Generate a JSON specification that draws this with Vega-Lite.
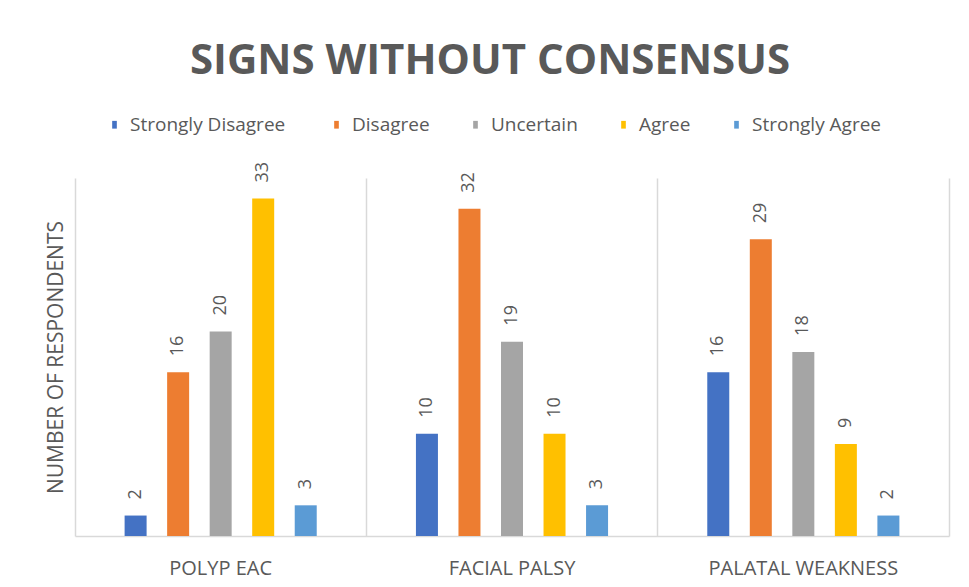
{
  "$schema": "https://vega.github.io/schema/vega-lite/v6.json",
  "autosize": "none",
  "width": 874,
  "height": 358,
  "padding": {"left": 75, "top": 178, "right": 20, "bottom": 51},
  "background": "white",
  "title": {
    "text": "SIGNS WITHOUT CONSENSUS",
    "fontSize": 42,
    "fontWeight": "bold",
    "font": "Open Sans",
    "color": "#595959",
    "anchor": "middle",
    "offset": 32,
    "dx": -22
  },
  "data": {
    "values": [
      {"sign": "POLYP EAC", "response": "Strongly  Disagree", "count": 2},
      {"sign": "POLYP EAC", "response": "Disagree", "count": 16},
      {"sign": "POLYP EAC", "response": "Uncertain", "count": 20},
      {"sign": "POLYP EAC", "response": "Agree", "count": 33},
      {"sign": "POLYP EAC", "response": "Strongly Agree", "count": 3},
      {"sign": "FACIAL PALSY", "response": "Strongly  Disagree", "count": 10},
      {"sign": "FACIAL PALSY", "response": "Disagree", "count": 32},
      {"sign": "FACIAL PALSY", "response": "Uncertain", "count": 19},
      {"sign": "FACIAL PALSY", "response": "Agree", "count": 10},
      {"sign": "FACIAL PALSY", "response": "Strongly Agree", "count": 3},
      {"sign": "PALATAL WEAKNESS", "response": "Strongly  Disagree", "count": 16},
      {"sign": "PALATAL WEAKNESS", "response": "Disagree", "count": 29},
      {"sign": "PALATAL WEAKNESS", "response": "Uncertain", "count": 18},
      {"sign": "PALATAL WEAKNESS", "response": "Agree", "count": 9},
      {"sign": "PALATAL WEAKNESS", "response": "Strongly Agree", "count": 2}
    ]
  },
  "encoding": {
    "x": {
      "field": "sign",
      "type": "nominal",
      "sort": ["POLYP EAC", "FACIAL PALSY", "PALATAL WEAKNESS"],
      "scale": {"paddingInner": 0, "paddingOuter": 0}
    },
    "xOffset": {
      "field": "response",
      "type": "nominal",
      "sort": ["Strongly  Disagree", "Disagree", "Uncertain", "Agree", "Strongly Agree"],
      "scale": {"paddingInner": 0.15, "paddingOuter": 1}
    },
    "y": {
      "field": "count",
      "type": "quantitative",
      "scale": {"domain": [0, 35], "nice": false}
    }
  },
  "layer": [
    {
      "mark": {"type": "bar", "width": 22},
      "encoding": {
        "x": {
          "field": "sign",
          "type": "nominal",
          "sort": ["POLYP EAC", "FACIAL PALSY", "PALATAL WEAKNESS"],
          "scale": {"paddingInner": 0, "paddingOuter": 0},
          "axis": {
            "title": null,
            "labelAngle": 0,
            "labelFont": "Open Sans",
            "labelFontSize": 20,
            "labelLimit": 400,
            "labelColor": "#595959",
            "labelPadding": 22,
            "ticks": false,
            "grid": false,
            "domain": true,
            "domainColor": "#D9D9D9",
            "domainWidth": 1.5,
            "orient": "bottom"
          }
        },
        "y": {
          "field": "count",
          "type": "quantitative",
          "scale": {"domain": [0, 35], "nice": false},
          "axis": {
            "title": "NUMBER OF RESPONDENTS",
            "titleFont": "Open Sans",
            "titleFontSize": 21,
            "titleFontWeight": "normal",
            "titleColor": "#595959",
            "titlePadding": 9,
            "labels": false,
            "ticks": false,
            "domain": false,
            "grid": false,
            "orient": "left"
          }
        },
        "color": {
          "field": "response",
          "type": "nominal",
          "sort": ["Strongly  Disagree", "Disagree", "Uncertain", "Agree", "Strongly Agree"],
          "scale": {"range": ["#4472C4", "#ED7D31", "#A5A5A5", "#FFC000", "#5B9BD5"]},
          "legend": {
            "title": null,
            "orient": "none",
            "direction": "horizontal",
            "legendX": 30,
            "legendY": -63,
            "symbolType": "M-0.6,-1H0.6V1H-0.6Z",
            "symbolSize": 60,
            "symbolStrokeWidth": 0,
            "labelFont": "Open Sans",
            "labelFontSize": 19,
            "labelLimit": 400,
            "labelColor": "#595959",
            "labelOffset": 6,
            "columnPadding": 36
          }
        }
      }
    },
    {
      "mark": {
        "type": "text",
        "angle": 270,
        "align": "left",
        "baseline": "middle",
        "dx": 16,
        "font": "Open Sans",
        "fontSize": 18,
        "color": "#595959"
      },
      "encoding": {
        "x": {
          "field": "sign",
          "type": "nominal",
          "sort": ["POLYP EAC", "FACIAL PALSY", "PALATAL WEAKNESS"],
          "scale": {"paddingInner": 0, "paddingOuter": 0},
          "axis": {
            "orient": "top",
            "title": null,
            "labels": false,
            "ticks": false,
            "domain": false,
            "grid": true,
            "bandPosition": 0,
            "gridColor": "#D9D9D9",
            "gridWidth": 1.5
          }
        },
        "y": {
          "field": "count",
          "type": "quantitative",
          "scale": {"domain": [0, 35], "nice": false},
          "axis": {
            "orient": "right",
            "title": null,
            "labels": false,
            "ticks": false,
            "grid": false,
            "domain": true,
            "domainColor": "#D9D9D9",
            "domainWidth": 1.5
          }
        },
        "text": {"field": "count", "type": "quantitative"}
      }
    }
  ],
  "resolve": {"axis": {"x": "independent", "y": "independent"}},
  "config": {"view": {"stroke": null}}
}
